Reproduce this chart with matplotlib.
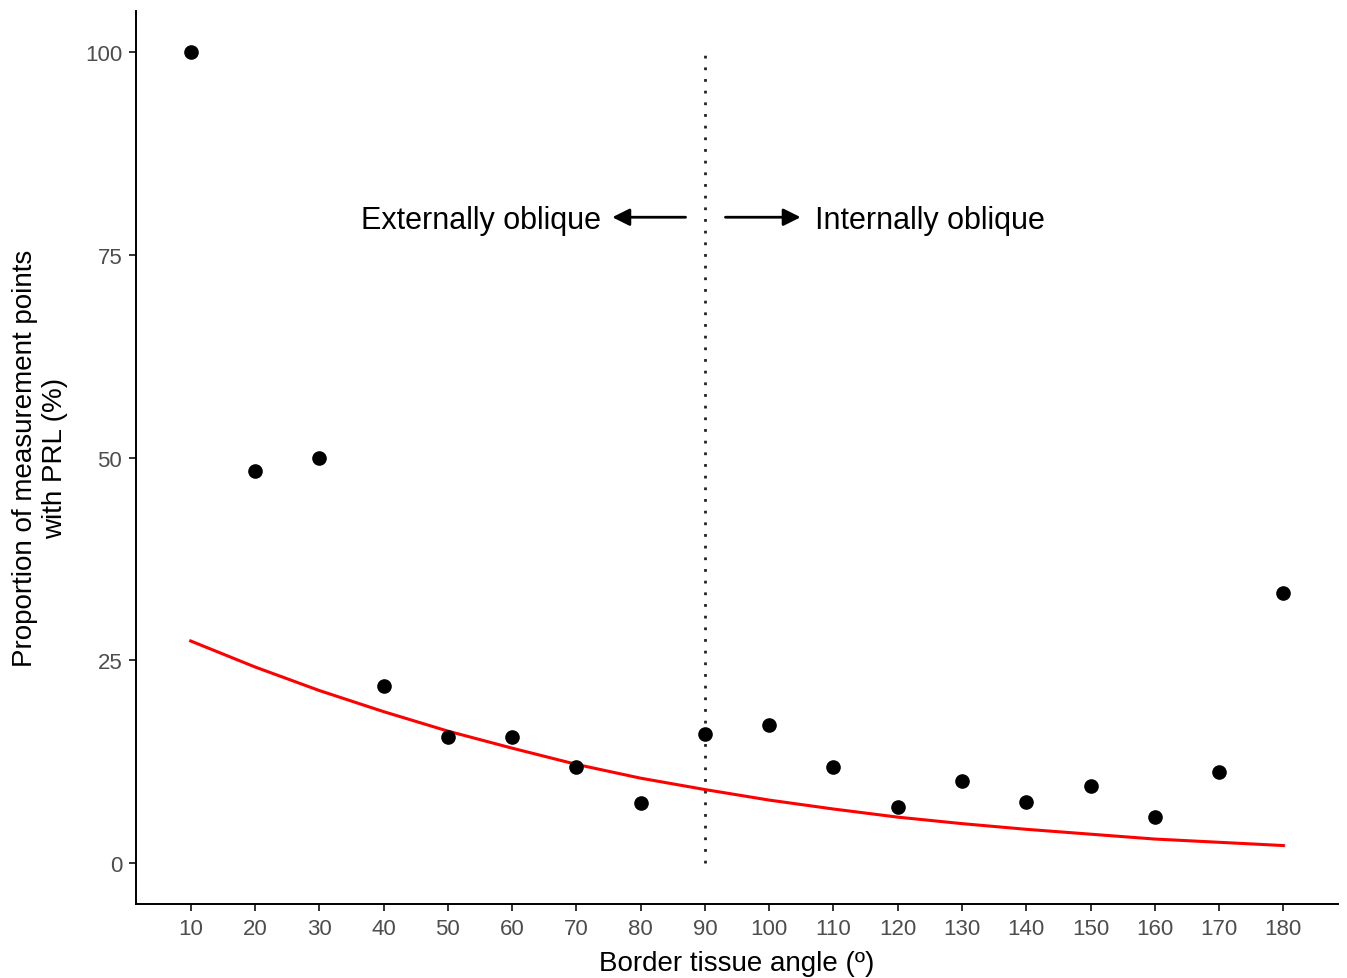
import matplotlib
matplotlib.use("Agg")
import matplotlib.pyplot as plt
from matplotlib.patches import FancyArrowPatch

plt.rcParams['font.family'] = ['Liberation Sans', 'DejaVu Sans']

# border tissue angle (degrees) and observed proportion with PRL (%)
angles = [10, 20, 30, 40, 50, 60, 70, 80, 90, 100, 110, 120, 130, 140, 150, 160, 170, 180]
prl_pct = [100, 48.3, 50, 21.8, 15.6, 15.6, 11.9, 7.4, 16.0, 17.1, 11.9, 6.9, 10.1, 7.6, 9.5, 5.7, 11.2, 33.3]

# fitted model curve (%) at the same angles
fit_pct = [27.4, 24.2, 21.3, 18.7, 16.3, 14.2, 12.2, 10.5, 9.1, 7.8, 6.7, 5.7, 4.9, 4.2, 3.6, 3.0, 2.6, 2.2]

xticks = angles
yticks = [0, 25, 50, 75, 100]

fig = plt.figure(figsize=(13.47, 9.79), dpi=100)
ax = fig.add_axes([0.101, 0.0756, 0.8923, 0.9121])

ax.plot(angles, fit_pct, color='#ff0000', lw=2.2, zorder=2)
ax.plot(angles, prl_pct, 'o', color='black', ms=9.5, zorder=3)

# divider between externally and internally oblique angles
ax.plot([90, 90], [0, 100], color='#222222', lw=2, linestyle=(0, (1, 3.2)), zorder=1)

arr_l = FancyArrowPatch((87, 79.6), (75.6, 79.6), arrowstyle='-|>', mutation_scale=26,
                        color='black', lw=2, shrinkA=0, shrinkB=0)
arr_r = FancyArrowPatch((93.2, 79.6), (104.9, 79.6), arrowstyle='-|>', mutation_scale=26,
                        color='black', lw=2, shrinkA=0, shrinkB=0)
ax.add_patch(arr_l)
ax.add_patch(arr_r)
ax.text(73.8, 79.3, 'Externally oblique', ha='right', va='center', fontsize=22)
ax.text(107.2, 79.3, 'Internally oblique', ha='left', va='center', fontsize=22)

ax.set_xlim(1.5, 188.5)
ax.set_ylim(-5, 105)
ax.set_xticks(xticks)
ax.set_yticks(yticks)

for s in ['top', 'right']:
    ax.spines[s].set_visible(False)
for s in ['left', 'bottom']:
    ax.spines[s].set_linewidth(1.4)
ax.tick_params(axis='both', length=5, width=1.4, color='#333333',
               labelsize=16, labelcolor='#4d4d4d', pad=5)

ax.set_xlabel('Border tissue angle (º)', fontsize=20, labelpad=8)
ax.set_ylabel('Proportion of measurement points\nwith PRL (%)', fontsize=20, labelpad=12)

fig.savefig('out.png', dpi=100)
